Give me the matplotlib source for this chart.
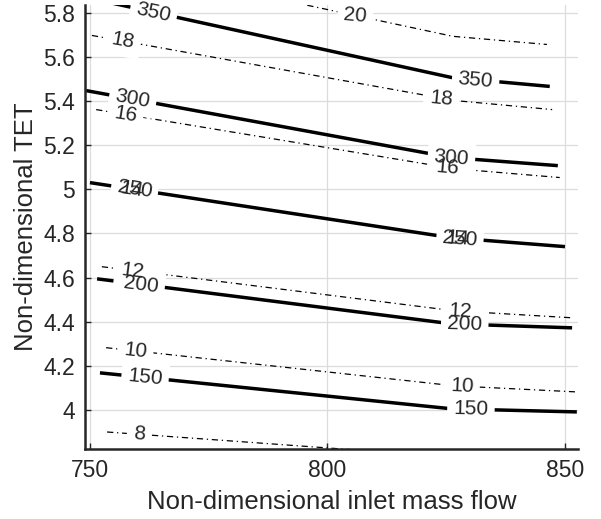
import numpy as np
import matplotlib
matplotlib.use("Agg")
from matplotlib import pyplot as plt
from matplotlib.ticker import FuncFormatter

plt.rcParams['font.family'] = ['Liberation Sans', 'DejaVu Sans']

# thick solid contours: level, polyline (x, y), label x positions
solid_levels = [150, 200, 250, 300, 350]
solid_x = [[752.1, 826.2, 852.5],
           [751.5, 826.2, 851.5],
           [750.0, 826.2, 850.0],
           [749.2, 826.2, 848.5],
           [752.0, 826.2, 846.8]]
solid_y = [[4.168, 4.005, 3.991],
           [4.594, 4.390, 4.372],
           [5.030, 4.780, 4.740],
           [5.447, 5.143, 5.107],
           [5.856, 5.506, 5.466]]
solid_label_x = [[761.6, 830.2],
                 [760.8, 828.9],
                 [759.4, 827.9],
                 [759.0, 826.1],
                 [763.4, 831.2]]

# thin dash-dot contours
dash_levels = [8, 10, 12, 14, 16, 18, 20]
dash_x = [[753.6, 826.2, 852.1],
          [753.4, 826.8, 852.1],
          [752.5, 826.8, 851.1],
          [750.0, 826.2, 850.0],
          [751.3, 826.8, 848.9],
          [750.4, 826.8, 847.3],
          [750.4, 826.4, 846.2]]
dash_y = [[3.900, 3.787, 3.769],
          [4.282, 4.109, 4.082],
          [4.649, 4.449, 4.418],
          [5.030, 4.780, 4.740],
          [5.361, 5.093, 5.053],
          [5.697, 5.402, 5.361],
          [6.042, 5.693, 5.656]]
dash_label_x = [[760.3],
                [759.6, 828.3],
                [759.0, 827.9],
                [758.8, 827.3],
                [757.5, 825.3],
                [757.0, 824.0],
                [805.8]]

x_ticks = [750, 800, 850]
y_ticks = [4, 4.2, 4.4, 4.6, 4.8, 5, 5.2, 5.4, 5.6, 5.8]

fig = plt.figure(figsize=(6.01, 5.19), dpi=100)
ax = fig.add_axes([0.1414, 0.1349, 0.8203, 0.8555])

ink = '#262626'


def add_label(xs, ys, xl, level, seg):
    yl = np.interp(xl, xs, ys)
    ang = np.degrees(np.arctan2(ys[seg + 1] - ys[seg], xs[seg + 1] - xs[seg]))
    kw = dict(rotation=ang, transform_rotates_text=True, rotation_mode='anchor',
              ha='center', va='center', fontsize=15)
    # white patch to cut the line, then the text on top
    ax.text(xl, yl, str(level), color='white', zorder=3,
            bbox=dict(boxstyle='square,pad=0.3', fc='white', ec='none'), **kw)
    ax.text(xl, yl, str(level), color=ink, zorder=4, **kw)


for lev, xs, ys, lx in zip(dash_levels, dash_x, dash_y, dash_label_x):
    ax.plot(xs, ys, color='black', lw=0.9, ls=(0, (5, 3, 1, 3)), zorder=2)
    for xl in lx:
        add_label(xs, ys, xl, lev, 0 if xl < 800 else 1)

for lev, xs, ys, lx in zip(solid_levels, solid_x, solid_y, solid_label_x):
    ax.plot(xs, ys, color='black', lw=2.5, zorder=2.5, solid_capstyle='butt')
    for i, xl in enumerate(lx):
        add_label(xs, ys, xl, lev, i)

ax.set_xlim(748.95, 852.74)
ax.set_ylim(3.823, 5.835)
ax.set_xticks(x_ticks)
ax.set_yticks(y_ticks)
ax.yaxis.set_major_formatter(FuncFormatter(lambda v, p: '%g' % v))
ax.grid(True, color='#dcdcdc', lw=0.9)
ax.set_axisbelow(True)

for s in ['top', 'right']:
    ax.spines[s].set_visible(False)
for s in ['left', 'bottom']:
    ax.spines[s].set_color(ink)
    ax.spines[s].set_linewidth(1.8)
    ax.spines[s].set_zorder(6)
ax.tick_params(direction='in', length=4, width=1, colors=ink, labelsize=16.5, pad=7)

ax.set_xlabel('Non-dimensional inlet mass flow', fontsize=18.5, color=ink, labelpad=6)
ax.set_ylabel('Non-dimensional TET', fontsize=18.5, color=ink, labelpad=4)

plt.savefig('out.png', dpi=100)
